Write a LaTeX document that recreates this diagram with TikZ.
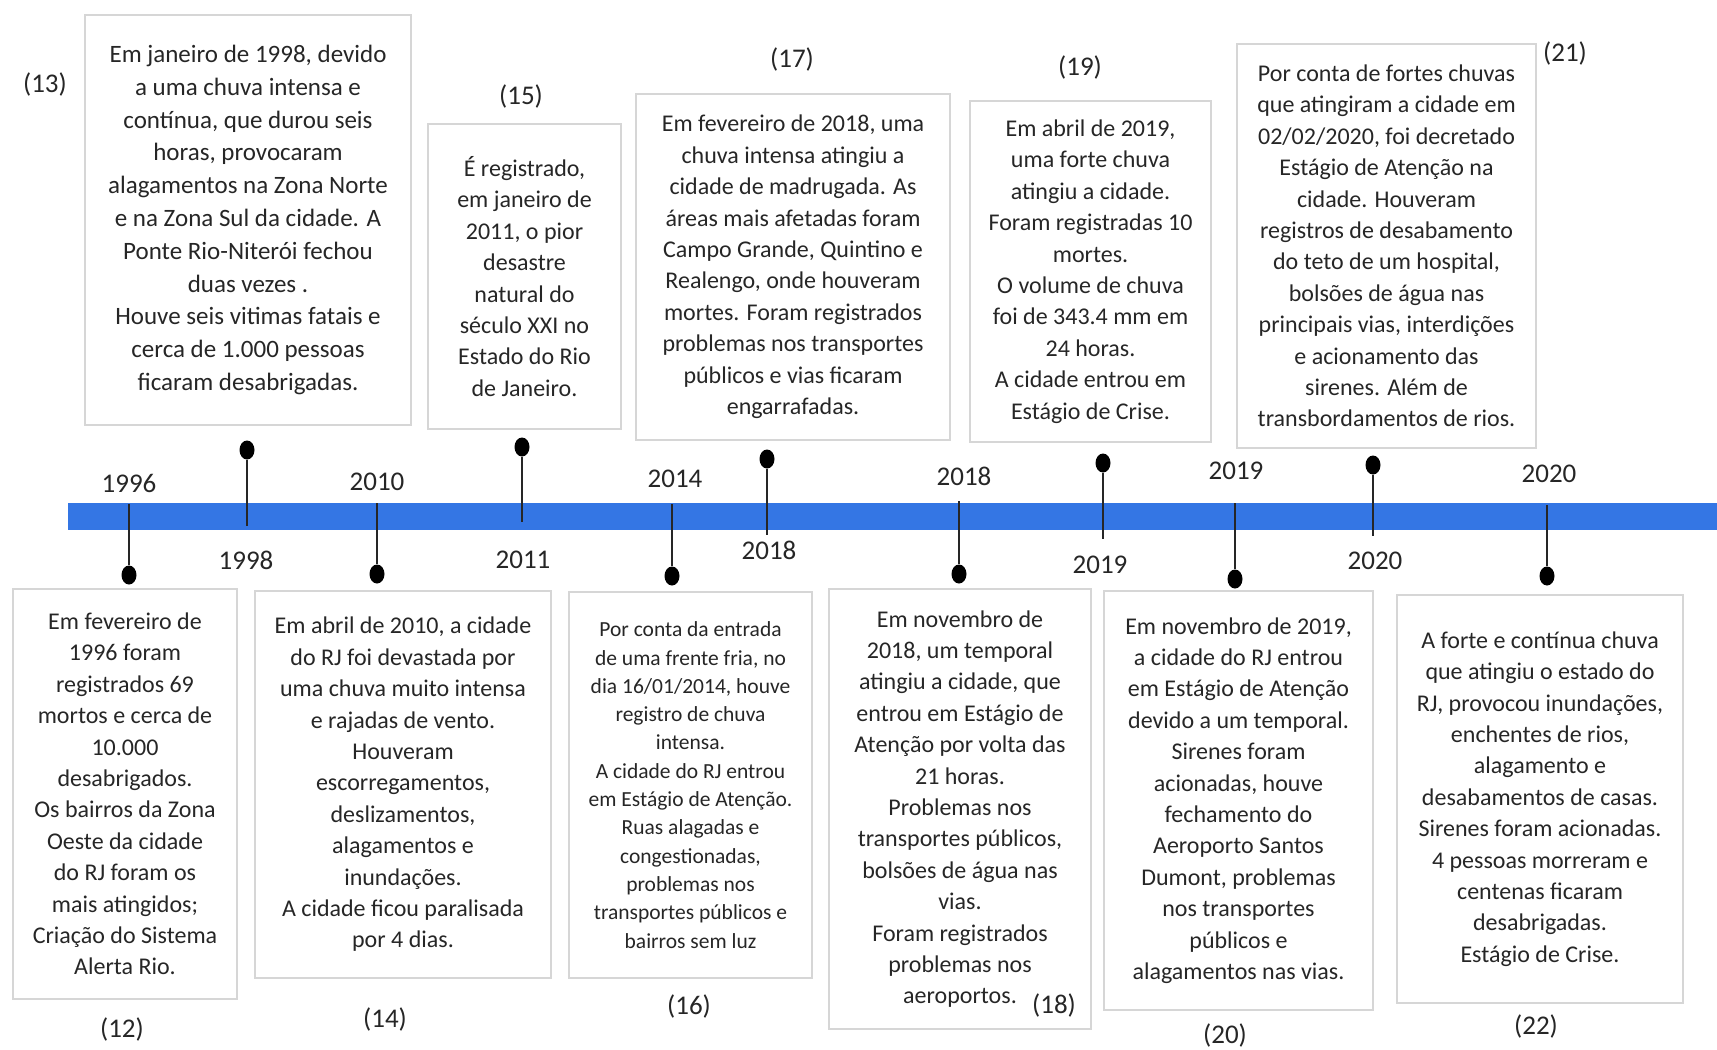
\documentclass[tikz,border=0pt]{standalone}
\usepackage{fontspec}
\setmainfont{Carlito}
\usepackage{xcolor}
\usepackage{tikz}
\usetikzlibrary{shapes.geometric}
\definecolor{barblue}{RGB}{52,118,228}
\definecolor{boxgray}{RGB}{214,214,214}
\definecolor{txtgray}{RGB}{38,38,38}
\tikzset{
  evbox/.style={draw=boxgray, line width=2.5pt, align=center, text=txtgray, inner sep=0pt,
    font=\fontsize{24}{31.4}\selectfont},
  yearlbl/.style={text=txtgray, inner sep=0pt, font=\fontsize{27}{30}\selectfont},
  reflbl/.style={text=txtgray, inner sep=0pt, font=\fontsize{27}{30}\selectfont},
  pin/.style={ellipse, fill=black, minimum width=15pt, minimum height=19pt, inner sep=0pt},
  stem/.style={line width=1.3pt, draw=black!85}
}
\begin{document}
\begin{tikzpicture}[x=1pt,y=-1pt]
\useasboundingbox (0,0) rectangle (1717,1050);
\node[fill=barblue, minimum width=1649pt, minimum height=27pt, inner sep=0pt, anchor=west] (bar) at (68,516.5) {};

\node[evbox, minimum width=326pt, minimum height=410pt, font=\fontsize{25}{32.8}\selectfont] (b13) at (248,220)
  {Em janeiro de 1998, devido\\ a uma chuva intensa e\\ contínua, que durou seis\\ horas, provocaram\\ alagamentos na Zona Norte\\ e na Zona Sul da cidade. A\\ Ponte Rio-Niterói fechou\\ duas vezes .\\ Houve seis vitimas fatais e\\ cerca de 1.000 pessoas\\ ficaram desabrigadas.};
\node[reflbl] (r13) at (45,84) {(13)};
\node[pin] (d1998) at (247,450) {};
\coordinate (e1998) at (247,526);
\draw[stem] (d1998) -- (e1998);
\node[yearlbl] (y1998) at (246,560) {1998};

\node[evbox, minimum width=193pt, minimum height=305pt] (b15) at (524.5,276.5)
  {É registrado,\\ em janeiro de\\ 2011, o pior\\ desastre\\ natural do\\ século XXI no\\ Estado do Rio\\ de Janeiro.};
\node[reflbl] (r15) at (521,96) {(15)};
\node[pin] (d2011) at (522,447) {};
\coordinate (e2011) at (522,522);
\draw[stem] (d2011) -- (e2011);
\node[yearlbl] (y2011) at (523,560) {2011};

\node[evbox, minimum width=314pt, minimum height=346pt] (b17) at (793,267)
  {Em fevereiro de 2018, uma\\ chuva intensa atingiu a\\ cidade de madrugada. As\\ áreas mais afetadas foram\\ Campo Grande, Quintino e\\ Realengo, onde houveram\\ mortes. Foram registrados\\ problemas nos transportes\\ públicos e vias ficaram\\ engarrafadas.};
\node[reflbl] (r17) at (792,59) {(17)};
\node[pin] (d2018a) at (767,459) {};
\coordinate (e2018a) at (767,535);
\draw[stem] (d2018a) -- (e2018a);
\node[yearlbl] (y2018a) at (769,550) {2018};

\node[evbox, minimum width=241pt, minimum height=341pt] (b19) at (1090.5,271.5)
  {Em abril de 2019,\\ uma forte chuva\\ atingiu a cidade.\\ Foram registradas 10\\ mortes.\\ O volume de chuva\\ foi de 343.4 mm em\\ 24 horas.\\ A cidade entrou em\\ Estágio de Crise.};
\node[reflbl] (r19) at (1080,67) {(19)};
\node[pin] (d2019a) at (1103,463) {};
\coordinate (e2019a) at (1103,539);
\draw[stem] (d2019a) -- (e2019a);
\node[yearlbl] (y2019a) at (1100,565) {2019};

\node[evbox, minimum width=299pt, minimum height=404pt] (b21) at (1386.5,246)
  {Por conta de fortes chuvas\\ que atingiram a cidade em\\ 02/02/2020, foi decretado\\ Estágio de Atenção na\\ cidade. Houveram\\ registros de desabamento\\ do teto de um hospital,\\ bolsões de água nas\\ principais vias, interdições\\ e acionamento das\\ sirenes. Além de\\ transbordamentos de rios.};
\node[reflbl] (r21) at (1565,53) {(21)};
\node[pin] (d2020a) at (1373,465) {};
\coordinate (e2020a) at (1373,536);
\draw[stem] (d2020a) -- (e2020a);
\node[yearlbl] (y2020a) at (1375,561) {2020};

\node[evbox, minimum width=224pt, minimum height=410pt] (b12) at (125,794)
  {Em fevereiro de\\ 1996 foram\\ registrados 69\\ mortos e cerca de\\ 10.000\\ desabrigados.\\ Os bairros da Zona\\ Oeste da cidade\\ do RJ foram os\\ mais atingidos;\\ Criação do Sistema\\ Alerta Rio.};
\node[reflbl] (r12) at (122,1029) {(12)};
\node[yearlbl] (y1996) at (129,483) {1996};
\coordinate (s1996) at (129,504);
\node[pin] (d1996) at (129,575) {};
\draw[stem] (s1996) -- (d1996);

\node[evbox, minimum width=296pt, minimum height=387pt] (b14) at (403,784.5)
  {Em abril de 2010, a cidade\\ do RJ foi devastada por\\ uma chuva muito intensa\\ e rajadas de vento.\\ Houveram\\ escorregamentos,\\ deslizamentos,\\ alagamentos e\\ inundações.\\ A cidade ficou paralisada\\ por 4 dias.};
\node[reflbl] (r14) at (385,1019) {(14)};
\node[yearlbl] (y2010) at (377,482) {2010};
\coordinate (s2010) at (377,503);
\node[pin] (d2010) at (377,574) {};
\draw[stem] (s2010) -- (d2010);

\node[evbox, minimum width=243pt, minimum height=386pt, font=\fontsize{21.5}{28.3}\selectfont] (b16) at (690.5,785)
  {Por conta da entrada\\ de uma frente fria, no\\ dia 16/01/2014, houve\\ registro de chuva\\ intensa.\\ A cidade do RJ entrou\\ em Estágio de Atenção.\\ Ruas alagadas e\\ congestionadas,\\ problemas nos\\ transportes públicos e\\ bairros sem luz};
\node[reflbl] (r16) at (689,1006) {(16)};
\node[yearlbl] (y2014) at (675,479) {2014};
\coordinate (s2014) at (672,504);
\node[pin] (d2014) at (672,576) {};
\draw[stem] (s2014) -- (d2014);

\node[evbox, minimum width=262pt, minimum height=440pt] (b18) at (960,809)
  {Em novembro de\\ 2018, um temporal\\ atingiu a cidade, que\\ entrou em Estágio de\\ Atenção por volta das\\ 21 horas.\\ Problemas nos\\ transportes públicos,\\ bolsões de água nas\\ vias.\\ Foram registrados\\ problemas nos\\ aeroportos.};
\node[reflbl] (r18) at (1054,1005) {(18)};
\node[yearlbl] (y2018b) at (964,476) {2018};
\coordinate (s2018b) at (959,501);
\node[pin] (d2018b) at (959,574) {};
\draw[stem] (s2018b) -- (d2018b);

\node[evbox, minimum width=269pt, minimum height=419pt] (b20) at (1238.5,800.5)
  {Em novembro de 2019,\\ a cidade do RJ entrou\\ em Estágio de Atenção\\ devido a um temporal.\\ Sirenes foram\\ acionadas, houve\\ fechamento do\\ Aeroporto Santos\\ Dumont, problemas\\ nos transportes\\ públicos e\\ alagamentos nas vias.};
\node[reflbl] (r20) at (1225,1035) {(20)};
\node[yearlbl] (y2019b) at (1236,471) {2019};
\coordinate (s2019b) at (1235,503);
\node[pin] (d2019b) at (1235,579) {};
\draw[stem] (s2019b) -- (d2019b);

\node[evbox, minimum width=286pt, minimum height=408pt] (b22) at (1540,799)
  {A forte e contínua chuva\\ que atingiu o estado do\\ RJ, provocou inundações,\\ enchentes de rios,\\ alagamento e\\ desabamentos de casas.\\ Sirenes foram acionadas.\\ 4 pessoas morreram e\\ centenas ficaram\\ desabrigadas.\\ Estágio de Crise.};
\node[reflbl] (r22) at (1536,1026) {(22)};
\node[yearlbl] (y2020b) at (1549,474) {2020};
\coordinate (s2020b) at (1547,505);
\node[pin] (d2020b) at (1547,576) {};
\draw[stem] (s2020b) -- (d2020b);
\end{tikzpicture}
\end{document}
